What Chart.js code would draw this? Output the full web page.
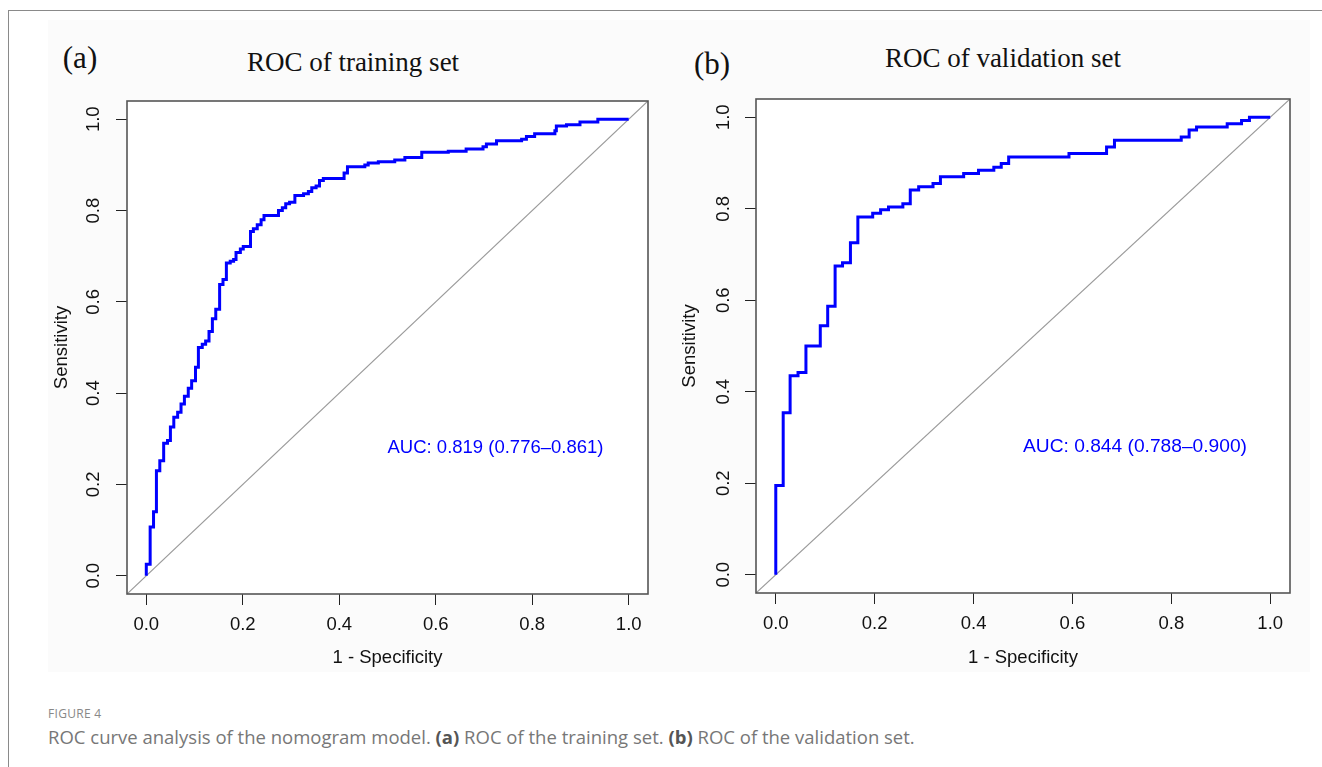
<!DOCTYPE html>
<html lang="en">
<head>
  <meta charset="UTF-8" />
  <title>ROC curves</title>
  <script src="https://cdn.jsdelivr.net/npm/chart.js"></script>
  <style>
    body {
      margin: 0;
      width: 1322px;
      height: 767px;
      overflow: hidden;
      background: #fff;
      position: relative;
      font-family: "Liberation Sans", Arial, sans-serif;
    }
    /* thin page frame (top + left) */
    .frame {
      position: absolute;
      left: 8px;
      top: 10px;
      width: 1330px;
      height: 780px;
      border-top: 1px solid #8a8a8a;
      border-left: 1px solid #8a8a8a;
    }
    .figure {
      position: absolute;
      left: 48px;
      top: 20px;
      width: 1262px;
      height: 652px;
      background: #fbfbfb;
    }
    canvas { position: absolute; }
    #chartA { left: 30px; top: 90px; }
    #chartB { left: 660px; top: 90px; }
    .serif {
      position: absolute;
      font-family: "Liberation Serif", "Times New Roman", serif;
      color: #111;
      line-height: 1;
      white-space: nowrap;
      transform: translate(-50%, -50%);
    }
    .title { font-size: 27px; }
    .tag { font-size: 31px; }
    .caption-head {
      position: absolute;
      left: 48px;
      top: 705px;
      font-family: "Open Sans", sans-serif;
      font-size: 12px;
      color: #888;
      letter-spacing: 0.3px;
    }
    .caption {
      position: absolute;
      left: 48px;
      top: 724px;
      font-family: "Open Sans", sans-serif;
      font-size: 18.5px;
      color: #777;
      white-space: nowrap;
    }
    .caption b { color: #555; }
  </style>
</head>
<body>
  <div class="frame"></div>
  <div class="figure"></div>

  <div class="serif tag" style="left:80px; top:57px;">(a)</div>
  <div class="serif title" style="left:353px; top:62px;">ROC of training set</div>
  <div class="serif tag" style="left:712px; top:63px;">(b)</div>
  <div class="serif title" style="left:1003px; top:58px;">ROC of validation set</div>

  <canvas id="chartA" width="640" height="590"></canvas>
  <canvas id="chartB" width="650" height="590"></canvas>

  <div class="caption-head">FIGURE 4</div>
  <div class="caption">ROC curve analysis of the nomogram model. <b>(a)</b> ROC of the training set. <b>(b)</b> ROC of the validation set.</div>

  <script>
    // axis ticks (same on both axes)
    const tickVals = [0, 0.2, 0.4, 0.6, 0.8, 1.0];
    const axisMin = -0.04;
    const axisMax = 1.04;

    // training set ROC (1 - specificity, sensitivity)
    const trainFpr = [0, 0, 0.008, 0.015, 0.021, 0.028, 0.036, 0.044, 0.05, 0.057, 0.065, 0.072, 0.079, 0.087, 0.094,
      0.102, 0.108, 0.116, 0.123, 0.130, 0.137, 0.144, 0.152, 0.159, 0.166, 0.174, 0.181, 0.186, 0.195, 0.201,
      0.216, 0.222, 0.230, 0.238, 0.244, 0.274, 0.282, 0.289, 0.297, 0.308, 0.326, 0.336, 0.343, 0.352, 0.359,
      0.367, 0.410, 0.417, 0.453, 0.460, 0.481, 0.515, 0.536, 0.571, 0.626, 0.663, 0.698, 0.705, 0.726, 0.778,
      0.788, 0.805, 0.847, 0.850, 0.871, 0.899, 0.936, 1.0];
    const trainTpr = [0, 0.025, 0.107, 0.14, 0.23, 0.252, 0.29, 0.296, 0.326, 0.347, 0.358, 0.376, 0.393, 0.411, 0.427,
      0.457, 0.5, 0.507, 0.514, 0.535, 0.563, 0.584, 0.638, 0.649, 0.685, 0.689, 0.693, 0.708, 0.716, 0.721,
      0.754, 0.76, 0.769, 0.78, 0.789, 0.8, 0.806, 0.815, 0.818, 0.833, 0.837, 0.842, 0.85, 0.854, 0.866,
      0.87, 0.882, 0.896, 0.9, 0.904, 0.907, 0.911, 0.916, 0.928, 0.93, 0.935, 0.94, 0.946, 0.953, 0.956,
      0.962, 0.968, 0.975, 0.985, 0.988, 0.994, 1.0, 1.0];

    // validation set ROC
    const validFpr = [0, 0, 0.015, 0.029, 0.045, 0.061, 0.09, 0.105, 0.12, 0.135, 0.151, 0.166, 0.196, 0.212, 0.228,
      0.257, 0.272, 0.289, 0.318, 0.333, 0.38, 0.41, 0.441, 0.456, 0.471, 0.593, 0.669, 0.685, 0.82, 0.836,
      0.851, 0.913, 0.942, 0.958, 1.0];
    const validTpr = [0, 0.195, 0.354, 0.435, 0.442, 0.5, 0.544, 0.587, 0.675, 0.682, 0.726, 0.782, 0.79, 0.798, 0.804,
      0.811, 0.841, 0.848, 0.855, 0.87, 0.877, 0.884, 0.891, 0.899, 0.913, 0.921, 0.935, 0.95, 0.957, 0.972,
      0.979, 0.986, 0.993, 1.0, 1.0];

    const aucTrain = 'AUC: 0.819 (0.776\u20130.861)';
    const aucValid = 'AUC: 0.844 (0.788\u20130.900)';
    const aucPos = [0.5, 0.28];

    const tickFont = { family: '"Liberation Sans", Arial, sans-serif', size: 18.5 };

    // white plot region + R style box + AUC label
    const boxPlugin = {
      id: 'rbox',
      beforeDatasetsDraw(chart) {
        const { ctx, chartArea: a } = chart;
        ctx.save();
        ctx.fillStyle = '#fff';
        ctx.fillRect(a.left, a.top, a.right - a.left, a.bottom - a.top);
        ctx.restore();
      },
      afterDatasetsDraw(chart, args, opts) {
        const { ctx, chartArea: a, scales } = chart;
        ctx.save();
        ctx.strokeStyle = '#555';
        ctx.lineWidth = 1.6;
        ctx.strokeRect(a.left, a.top, a.right - a.left, a.bottom - a.top);
        ctx.fillStyle = '#0000ff';
        ctx.font = opts.size + 'px "Liberation Sans", Arial, sans-serif';
        ctx.textAlign = 'left';
        ctx.textBaseline = 'middle';
        ctx.fillText(opts.text, scales.x.getPixelForValue(aucPos[0]), scales.y.getPixelForValue(aucPos[1]));
        ctx.restore();
      }
    };

    function makeChart(id, fpr, tpr, auc, aucSize, pad, yW, xH, yPad, yTitlePad) {
      const roc = fpr.map((f, i) => ({ x: f, y: tpr[i] }));
      const diag = [{ x: axisMin, y: axisMin }, { x: axisMax, y: axisMax }];
      return new Chart(document.getElementById(id), {
        type: 'line',
        data: {
          datasets: [
            { data: roc, borderColor: '#0000ff', borderWidth: 3, stepped: 'before', pointRadius: 0, fill: false },
            { data: diag, borderColor: '#9a9a9a', borderWidth: 1.2, pointRadius: 0, fill: false }
          ]
        },
        options: {
          responsive: false,
          animation: false,
          devicePixelRatio: 1,
          layout: { padding: pad },
          plugins: {
            legend: { display: false },
            tooltip: { enabled: false },
            rbox: { text: auc, size: aucSize }
          },
          scales: {
            x: {
              type: 'linear',
              min: axisMin,
              max: axisMax,
              afterBuildTicks: s => { s.ticks = tickVals.map(v => ({ value: v })); },
              afterFit: s => { s.height = xH; s.paddingLeft = 0; s.paddingRight = 0; },
              grid: { drawOnChartArea: false, drawTicks: true, tickLength: 11, color: '#222' },
              border: { display: false },
              ticks: { color: '#111', font: tickFont, padding: 9, maxRotation: 0, callback: v => v.toFixed(1) },
              title: { display: true, text: '1 - Specificity', color: '#111', font: tickFont, padding: { top: 0, bottom: 11 } }
            },
            y: {
              type: 'linear',
              min: axisMin,
              max: axisMax,
              afterBuildTicks: s => { s.ticks = tickVals.map(v => ({ value: v })); },
              afterFit: s => { s.width = yW; s.paddingTop = 0; s.paddingBottom = 0; },
              grid: { drawOnChartArea: false, drawTicks: true, tickLength: 11, color: '#222' },
              border: { display: false },
              ticks: { color: '#111', font: tickFont, padding: yPad, minRotation: 90, maxRotation: 90, crossAlign: 'center', callback: v => v.toFixed(1) },
              title: { display: true, text: 'Sensitivity', color: '#111', font: tickFont, padding: { top: yTitlePad, bottom: 0 } }
            }
          }
        },
        plugins: [boxPlugin]
      });
    }

    makeChart('chartA', trainFpr, trainTpr, aucTrain, 18.5, { left: 0, top: 11, right: 22, bottom: 0 }, 97, 86, 9, 21);
    makeChart('chartB', validFpr, validTpr, aucValid, 19.2, { left: 0, top: 9, right: 20, bottom: 0 }, 96, 87, 8, 19);
  </script>
</body>
</html>
